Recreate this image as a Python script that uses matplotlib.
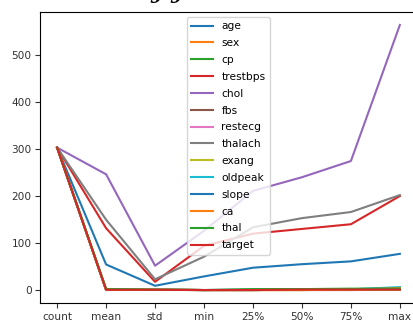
import matplotlib
matplotlib.use("Agg")
import matplotlib.pyplot as plt
import pandas as pd

# Summary statistics (df.describe()) of the heart disease dataset
stats = ["count", "mean", "std", "min", "25%", "50%", "75%", "max"]
age = [303, 54.37, 9.08, 29, 47.5, 55, 61, 77]
sex = [303, 0.683, 0.466, 0, 0, 1, 1, 1]
cp = [303, 0.967, 1.032, 0, 0, 1, 2, 3]
trestbps = [303, 131.62, 17.54, 94, 120, 130, 140, 200]
chol = [303, 246.26, 51.83, 126, 211, 240, 274.5, 564]
fbs = [303, 0.149, 0.356, 0, 0, 0, 0, 1]
restecg = [303, 0.528, 0.526, 0, 0, 1, 1, 2]
thalach = [303, 149.65, 22.91, 71, 133.5, 153, 166, 202]
exang = [303, 0.327, 0.470, 0, 0, 0, 1, 1]
oldpeak = [303, 1.04, 1.16, 0, 0, 0.8, 1.6, 6.2]
slope = [303, 1.40, 0.616, 0, 1, 1, 2, 2]
ca = [303, 0.729, 1.02, 0, 0, 0, 1, 4]
thal = [303, 2.31, 0.612, 0, 2, 2, 3, 3]
target = [303, 0.545, 0.499, 0, 0, 1, 1, 1]

summary = pd.DataFrame({
    "age": age, "sex": sex, "cp": cp, "trestbps": trestbps, "chol": chol,
    "fbs": fbs, "restecg": restecg, "thalach": thalach, "exang": exang,
    "oldpeak": oldpeak, "slope": slope, "ca": ca, "thal": thal, "target": target,
}, index=stats)

fig = plt.figure(figsize=(4.13, 3.23), dpi=100)
ax = fig.add_axes([40 / 413, 19.7 / 323, 377 / 413, 291.6 / 323])

summary.plot(ax=ax, linewidth=1.5)
ax.set_xticks(range(len(stats)))
ax.set_xticklabels(stats)
ax.tick_params(labelsize=7.6, colors="#333333", pad=2.5)
ax.legend(loc="upper center", fontsize=7.7, labelspacing=0.64,
          handlelength=2.0, borderaxespad=0.5)

# Descenders of the heading above the chart
for xp in (150 / 413, 170 / 413):
    fig.text(xp, 1.0 + 2.0 / 323, "y", fontsize=16, fontweight="bold",
             fontstyle="italic", family="DejaVu Serif", va="baseline", ha="left")

fig.savefig("out.png", dpi=100)
